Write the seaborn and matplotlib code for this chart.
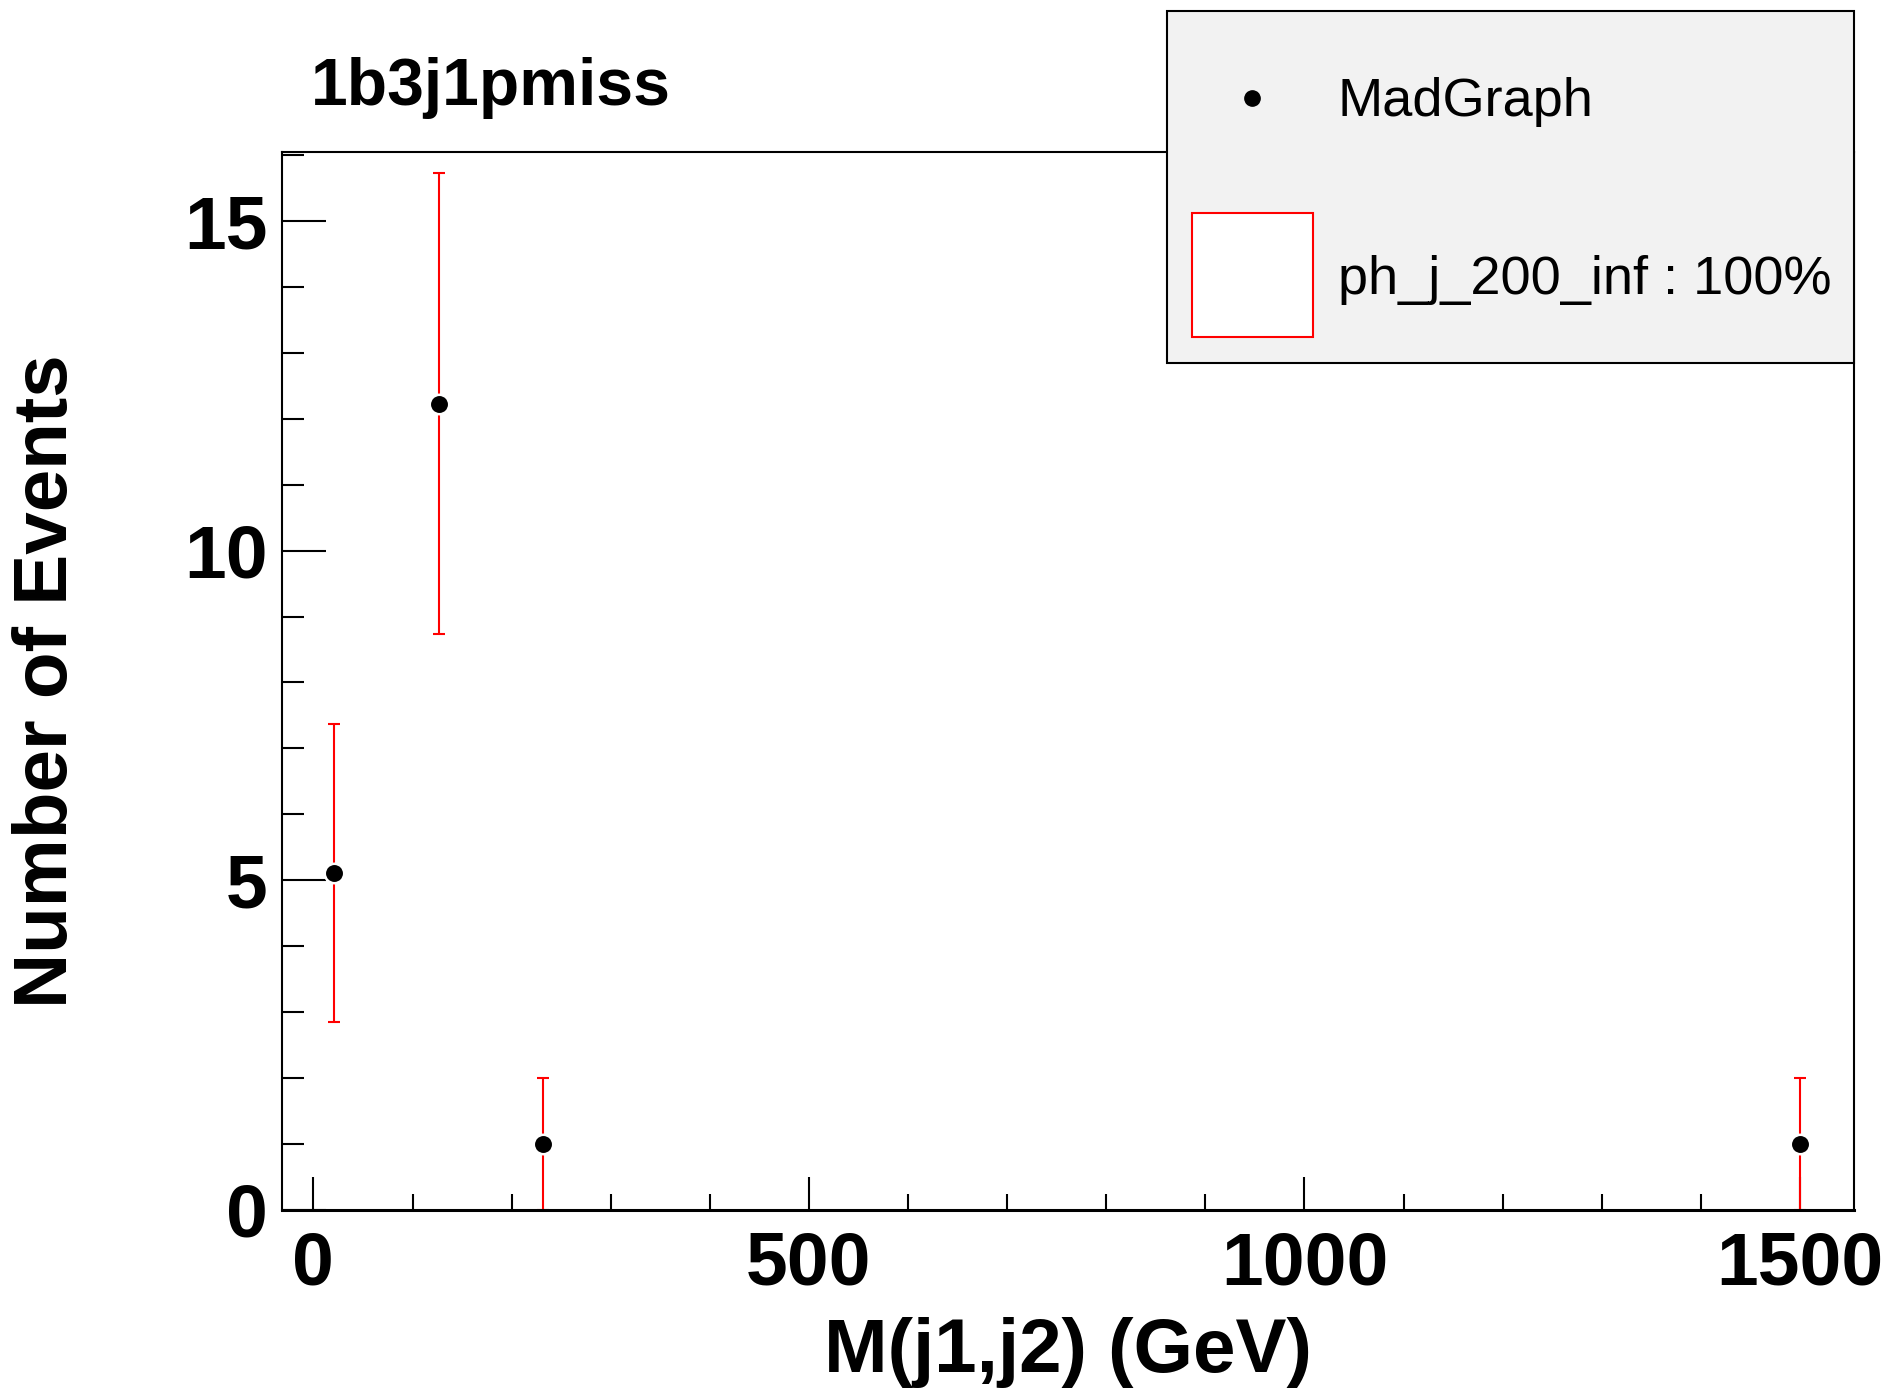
import matplotlib
matplotlib.use('Agg')
import matplotlib.pyplot as plt
import seaborn as sns
import pandas as pd
from matplotlib.patches import Rectangle
from matplotlib.lines import Line2D
from matplotlib.ticker import MultipleLocator

# ---- data ----
mass_gev = [21.0, 126.5, 232.0, 1500.0]
n_events = [5.11, 12.23, 1.0, 1.0]
n_errors = [2.26, 3.50, 1.0, 1.0]
x_ticks = [0, 500, 1000, 1500]
y_ticks = [0, 5, 10, 15]
title = "1b3j1pmiss"
x_label = "M(j1,j2) (GeV)"
y_label = "Number of Events"
legend_labels = ["MadGraph", "ph_j_200_inf : 100%"]

sns.set_theme(style='white')
plt.rcParams['font.family'] = ['Liberation Sans', 'DejaVu Sans']

W, H = 1893, 1395
fig = plt.figure(figsize=(W / 100, H / 100), dpi=100)
fig.patch.set_facecolor('white')

ax_l, ax_r, ax_t, ax_b = 281.7, 1854.0, 151.9, 1209.8
ax = fig.add_axes([ax_l / W, 1 - ax_b / H, (ax_r - ax_l) / W, (ax_b - ax_t) / H])
ax.set_facecolor('white')

df = pd.DataFrame({'mass': mass_gev, 'events': n_events, 'err': n_errors})

ax.errorbar(df['mass'], df['events'], yerr=df['err'], fmt='none', ecolor='red',
            elinewidth=1.5, capsize=4, capthick=1.5, zorder=2)
sns.scatterplot(data=df, x='mass', y='events', color='black', s=196,
                edgecolor='white', linewidth=1.8, zorder=3, ax=ax, legend=False)

ax.set_xlim(-32, 1554.5)
ax.set_ylim(0, 16.05)
ax.set_xticks(x_ticks)
ax.set_yticks(y_ticks)
ax.xaxis.set_minor_locator(MultipleLocator(100))
ax.yaxis.set_minor_locator(MultipleLocator(1))

ax.tick_params(axis='both', which='both', direction='in', color='black',
               width=1.5, labelcolor='black', labelsize=54,
               bottom=True, left=True, top=False, right=False)
ax.tick_params(axis='x', which='major', length=23.8, pad=15)
ax.tick_params(axis='x', which='minor', length=11.5)
ax.tick_params(axis='y', which='major', length=31.7, pad=10)
ax.tick_params(axis='y', which='minor', length=15.8)
for lab in ax.get_xticklabels() + ax.get_yticklabels():
    lab.set_fontweight('bold')

for sp in ax.spines.values():
    sp.set_visible(True)
    sp.set_color('black')
    sp.set_linewidth(1.5)
ax.spines['bottom'].set_linewidth(2.2)

ax.set_xlabel(x_label, fontsize=55, fontweight='bold', color='black')
ax.xaxis.label.set_va('center')
ax.xaxis.set_label_coords(0.5, -(1352 - ax_b) / (ax_b - ax_t))
ax.set_ylabel(y_label, fontsize=55, fontweight='bold', color='black')
ax.yaxis.label.set_va('center')
ax.yaxis.set_label_coords((48 - ax_l) / (ax_r - ax_l), 0.5)

fig.text(311 / W, 1 - 88 / H, title, fontsize=47.5, fontweight='bold',
         ha='left', va='center', color='black')

# ---- legend box ----
lx0, lx1, ly0, ly1 = 1166.5, 1854.0, 10.7, 362.7
fig.add_artist(Rectangle((lx0 / W, 1 - ly1 / H), (lx1 - lx0) / W, (ly1 - ly0) / H,
                         transform=fig.transFigure, facecolor='#f2f2f2',
                         edgecolor='black', linewidth=1.5, zorder=5))
fig.add_artist(Line2D([1252 / W], [1 - 98 / H], transform=fig.transFigure,
                      marker='o', color='black', markersize=11, linestyle='none', zorder=6))
fig.add_artist(Rectangle((1192 / W, 1 - 336.7 / H), 121 / W, 124 / H,
                         transform=fig.transFigure, facecolor='white',
                         edgecolor='red', linewidth=1.5, zorder=6))
fig.text(1338 / W, 1 - 102 / H, legend_labels[0], fontsize=39, ha='left',
         va='center', color='black', zorder=7)
fig.text(1338 / W, 1 - 280 / H, legend_labels[1], fontsize=39, ha='left',
         va='center', color='black', zorder=7)

fig.savefig('out.png', dpi=100)
